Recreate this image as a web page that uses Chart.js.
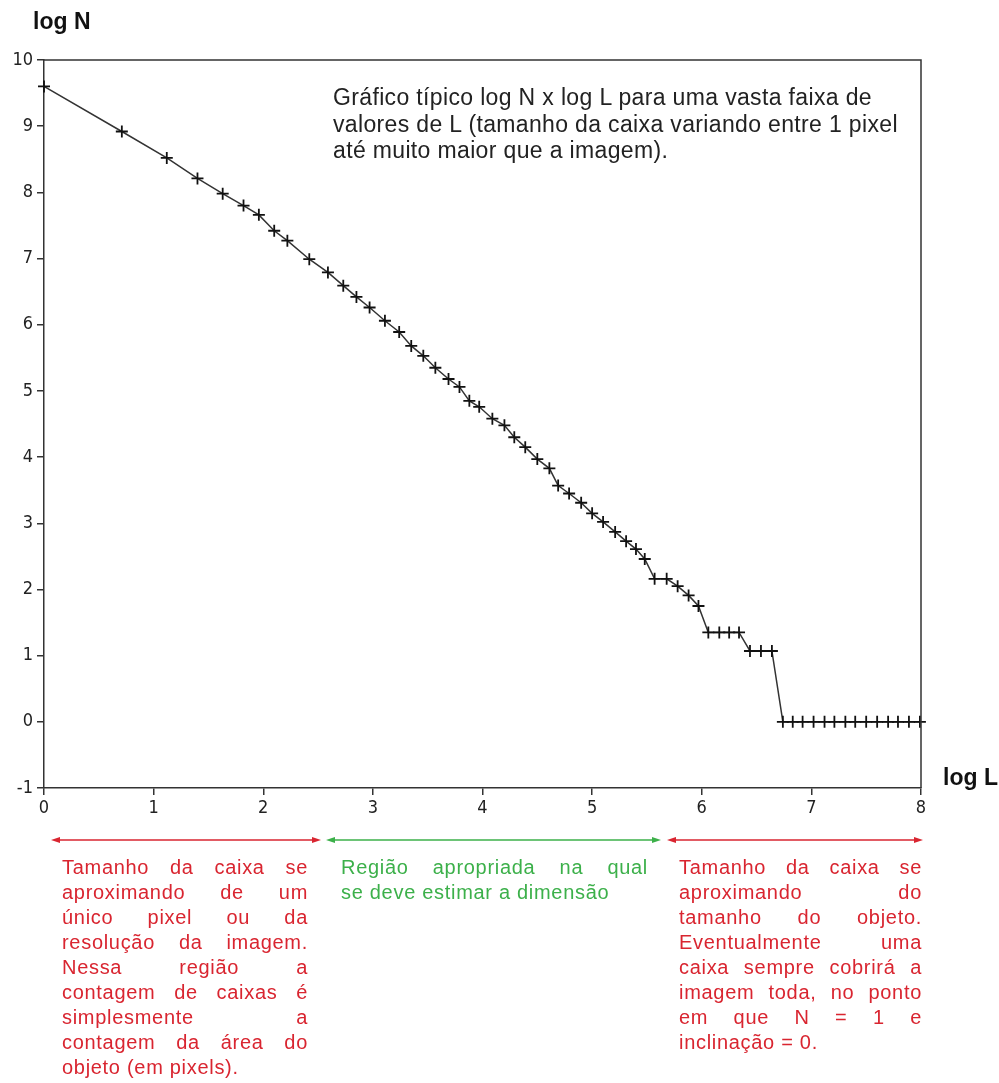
<!DOCTYPE html>
<html>
<head>
<meta charset="utf-8">
<script src="https://cdn.jsdelivr.net/npm/chart.js@4.4.0/dist/chart.umd.min.js"></script>
<style>
  html, body { margin:0; padding:0; background:#fff; }
  body { width:999px; height:1083px; position:relative; overflow:hidden; font-family:"Liberation Sans", Arial, sans-serif; }
  #wrap { position:absolute; left:0; top:0; width:999px; height:830px; }
  .lbl { position:absolute; font-weight:bold; color:#111; font-size:23px; font-family:"Liberation Sans", Arial, sans-serif; }
  #note { position:absolute; left:333px; top:84px; font-size:23px; letter-spacing:0.35px; line-height:26.5px; color:#222; white-space:nowrap; }
  .blk { position:absolute; font-size:20px; line-height:25px; letter-spacing:0.7px; }
  .blk div { text-align:justify; text-align-last:justify; white-space:nowrap; }
  .blk div.last { text-align:left; text-align-last:left; }
  .red { color:#d92530; }
  .green { color:#3cb04a; }
  svg { position:absolute; left:0; top:0; }
</style>
</head>
<body>
<div id="wrap"><canvas id="c"></canvas></div>
<div class="lbl" style="left:33px; top:8px;">log N</div>
<div class="lbl" style="left:943px; top:764px;">log L</div>
<div id="note">Gráfico típico log N x log L para uma vasta faixa de<br>valores de L (tamanho da caixa variando entre 1 pixel<br>até muito maior que a imagem).</div>

<svg width="999" height="1083">
  <g stroke-width="1.6">
    <line x1="55" y1="840" x2="317" y2="840" stroke="#d92530"/>
    <polygon points="51,840 60,837 60,843" fill="#d92530"/>
    <polygon points="321,840 312,837 312,843" fill="#d92530"/>
    <line x1="330" y1="840" x2="657" y2="840" stroke="#3cb04a"/>
    <polygon points="326,840 335,837 335,843" fill="#3cb04a"/>
    <polygon points="661,840 652,837 652,843" fill="#3cb04a"/>
    <line x1="671" y1="840" x2="919" y2="840" stroke="#d92530"/>
    <polygon points="667,840 676,837 676,843" fill="#d92530"/>
    <polygon points="923,840 914,837 914,843" fill="#d92530"/>
  </g>
</svg>

<div class="blk red" style="left:62px; top:855px; width:246px;">
  <div>Tamanho da caixa se</div>
  <div>aproximando de um</div>
  <div>único pixel ou da</div>
  <div>resolução da imagem.</div>
  <div>Nessa região a</div>
  <div>contagem de caixas é</div>
  <div>simplesmente a</div>
  <div>contagem da área do</div>
  <div class="last">objeto (em pixels).</div>
</div>
<div class="blk green" style="left:341px; top:855px; width:307px;">
  <div>Região apropriada na qual</div>
  <div class="last">se deve estimar a dimensão</div>
</div>
<div class="blk red" style="left:679px; top:855px; width:243px;">
  <div>Tamanho da caixa se</div>
  <div>aproximando do</div>
  <div>tamanho do objeto.</div>
  <div>Eventualmente uma</div>
  <div>caixa sempre cobrirá a</div>
  <div>imagem toda, no ponto</div>
  <div>em que N = 1 e</div>
  <div class="last">inclinação = 0.</div>
</div>

<script>
const logL = [0, 0.71, 1.12, 1.40, 1.63, 1.82, 1.96, 2.10, 2.22,
  2.42, 2.59, 2.73, 2.85, 2.97,
  3.11, 3.24, 3.35, 3.46, 3.57, 3.69, 3.79, 3.88, 3.97,
  4.09, 4.20, 4.29, 4.39, 4.50, 4.61, 4.69, 4.79, 4.90,
  5.00, 5.10, 5.21, 5.31, 5.40, 5.48, 5.57, 5.68, 5.78, 5.88, 5.97,
  6.06, 6.16, 6.25, 6.34,
  6.44, 6.54, 6.64,
  6.74, 6.83, 6.92, 7.02, 7.12, 7.21, 7.31, 7.40, 7.50, 7.60, 7.70, 7.79, 7.89, 7.99];
const logN = [9.60, 8.92, 8.52, 8.21, 7.98, 7.80, 7.66, 7.42, 7.27,
  6.99, 6.79, 6.59, 6.42, 6.26,
  6.06, 5.89, 5.68, 5.53, 5.35, 5.18, 5.06, 4.85, 4.76,
  4.58, 4.48, 4.30, 4.15, 3.97, 3.83, 3.57, 3.45, 3.31,
  3.15, 3.02, 2.87, 2.73, 2.61, 2.46, 2.16, 2.16, 2.05, 1.91, 1.75,
  1.35, 1.35, 1.35, 1.35,
  1.07, 1.07, 1.07,
  0, 0, 0, 0, 0, 0, 0, 0, 0, 0, 0, 0, 0, 0];
const xTicks = [0, 1, 2, 3, 4, 5, 6, 7, 8];
const yTicks = [-1, 0, 1, 2, 3, 4, 5, 6, 7, 8, 9, 10];

const points = logL.map((x, i) => ({ x: x, y: logN[i] }));

const frame = {
  id: 'frame',
  afterDraw(chart) {
    const { ctx, chartArea: a } = chart;
    ctx.save();
    ctx.strokeStyle = '#333';
    ctx.lineWidth = 1.5;
    ctx.beginPath();
    ctx.moveTo(a.left, a.top);
    ctx.lineTo(a.right, a.top);
    ctx.lineTo(a.right, a.bottom);
    ctx.stroke();
    ctx.restore();
  }
};

const tickFont = { family: "'Liberation Sans Narrow', 'DejaVu Sans Condensed', 'Liberation Sans', sans-serif", size: 18 };

new Chart(document.getElementById('c'), {
  type: 'scatter',
  data: {
    datasets: [{
      data: points,
      showLine: true,
      borderColor: '#333',
      borderWidth: 1.5,
      pointStyle: 'cross',
      pointRadius: 6,
      pointBorderColor: '#111',
      pointBorderWidth: 1.8,
      pointBackgroundColor: '#111',
      clip: false,
      tension: 0
    }]
  },
  options: {
    responsive: true,
    maintainAspectRatio: false,
    animation: false,
    events: [],
    layout: { padding: { top: 60, right: 78, left: 0, bottom: 0 } },
    plugins: { legend: { display: false }, tooltip: { enabled: false } },
    scales: {
      x: {
        type: 'linear', min: 0, max: 8,
        afterFit(s) { s.height = 42; },
        afterBuildTicks(s) { s.ticks = xTicks.map(v => ({ value: v })); },
        ticks: { color: '#222', font: tickFont, padding: 3, maxRotation: 0 },
        grid: { drawOnChartArea: false, drawTicks: true, tickLength: 7, color: '#333', lineWidth: 1.5 },
        border: { display: true, color: '#333', width: 1.5 }
      },
      y: {
        type: 'linear', min: -1, max: 10,
        afterFit(s) { s.width = 44; },
        afterBuildTicks(s) { s.ticks = yTicks.map(v => ({ value: v })); },
        ticks: { color: '#222', font: tickFont, padding: 4 },
        grid: { drawOnChartArea: false, drawTicks: true, tickLength: 7, color: '#333', lineWidth: 1.5 },
        border: { display: true, color: '#333', width: 1.5 }
      }
    }
  },
  plugins: [frame]
});
</script>
</body>
</html>
